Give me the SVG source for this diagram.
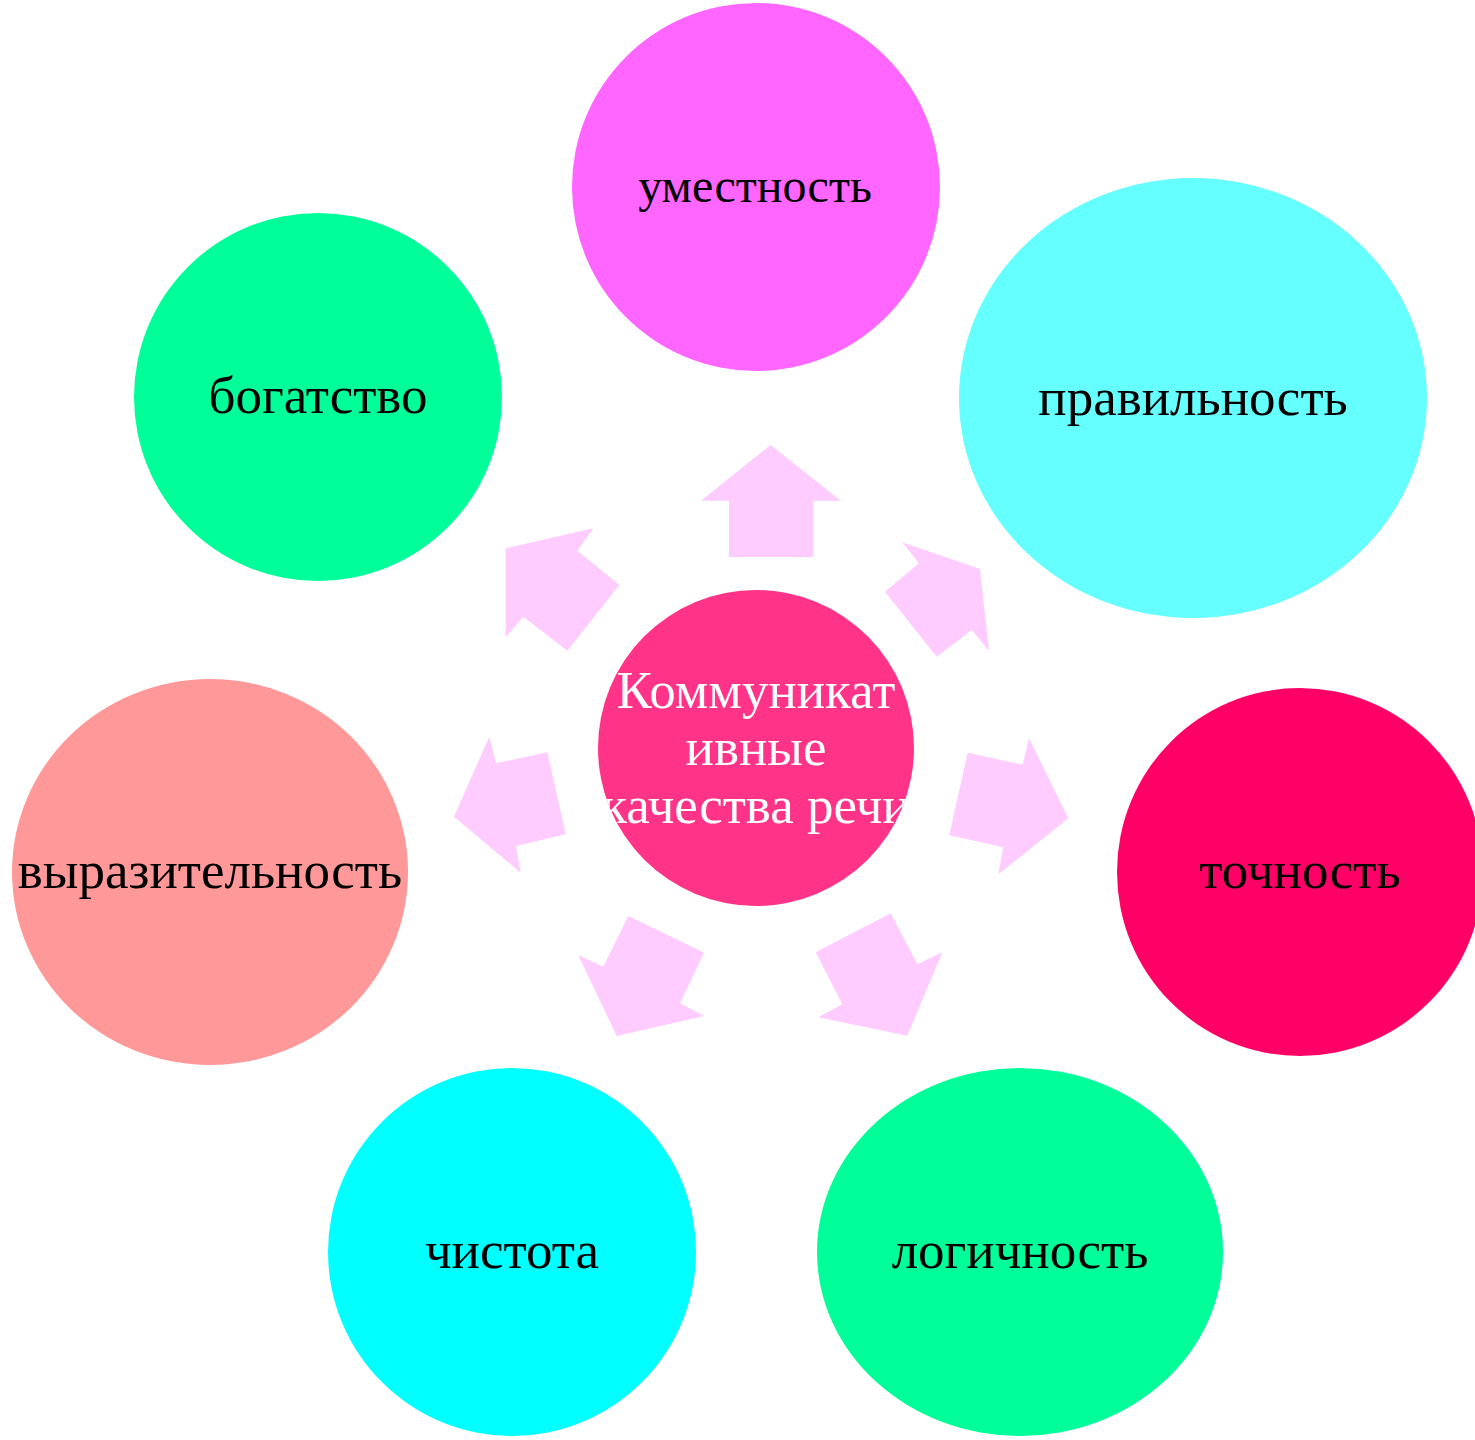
<svg xmlns="http://www.w3.org/2000/svg" width="1475" height="1440" viewBox="0 0 1475 1440">
<defs>
<style>
.lbl{font-family:"Liberation Serif","Times New Roman",serif;font-size:53px;text-anchor:middle;fill:#000}
.ctr{font-family:"Liberation Serif","Times New Roman",serif;font-size:53px;text-anchor:middle;fill:#fff}
.arr{fill:#FFCCFF;stroke:none}
</style>
<clipPath id="cclip"><circle cx="756" cy="748" r="158"/></clipPath>
</defs>
<rect width="1475" height="1440" fill="#fff"/>
<g id="connectors">
<polygon class="arr" points="770.7,445 840.7,500.7 813.3,500.7 813.3,557 729,557 729,500.7 701,500.7"/>
<polygon class="arr" points="902.3,542.3 980,569 989,650.7 971.7,630 936.7,656.7 885,591.7 919,563.3"/>
<polygon class="arr" points="1029,738.3 1068.3,818.3 998.3,874.3 1003.3,847.3 949.3,835.3 967.7,752.7 1022.7,764.7"/>
<polygon class="arr" points="815.7,952.3 890.7,913.3 917.3,964.3 942.3,952.3 907.3,1035.7 818.3,1017.3 842.3,1004.3"/>
<polygon class="arr" points="628.3,916 704,952.7 680,1003.3 704.3,1016 616.7,1036 578.3,955 603.3,966.7"/>
<polygon class="arr" points="489.3,736.7 496,763.3 547.3,752.3 565.7,834.3 516,846 520.7,872.7 454,816.7"/>
<polygon class="arr" points="505.7,548.3 593.3,528.3 577.3,550.7 619.3,585 567.3,650.7 523.3,616.7 505.7,637.3"/>
</g>
<g id="center">
<circle cx="756" cy="748" r="158" fill="#FF3388"/>
<g clip-path="url(#cclip)">
<text class="ctr" x="756" y="708">Коммуникат</text>
<text class="ctr" x="756" y="765">ивные</text>
<text class="ctr" x="756" y="823">качества речи</text>
</g>
</g>
<g id="n-umestnost">
<circle cx="756" cy="187" r="184" fill="#FF66FF"/>
<text class="lbl" x="755" y="202" style="font-size:48px">уместность</text>
</g>
<g id="n-pravilnost">
<ellipse cx="1193" cy="398" rx="234" ry="220" fill="#66FFFF"/>
<text class="lbl" x="1193" y="415">правильность</text>
</g>
<g id="n-tochnost">
<ellipse cx="1300" cy="872" rx="183" ry="184" fill="#FF0066"/>
<text class="lbl" x="1300" y="888">точность</text>
</g>
<g id="n-logichnost">
<ellipse cx="1020" cy="1252" rx="203" ry="184" fill="#00FF99"/>
<text class="lbl" x="1020" y="1268">логичность</text>
</g>
<g id="n-chistota">
<circle cx="512" cy="1252" r="184" fill="#00FFFF"/>
<text class="lbl" x="512" y="1268">чистота</text>
</g>
<g id="n-vyrazitelnost">
<ellipse cx="210" cy="872" rx="198" ry="193" fill="#FF9999"/>
<text class="lbl" x="210" y="888">выразительность</text>
</g>
<g id="n-bogatstvo">
<circle cx="318" cy="397" r="184" fill="#00FF99"/>
<text class="lbl" x="318" y="413">богатство</text>
</g>
</svg>
